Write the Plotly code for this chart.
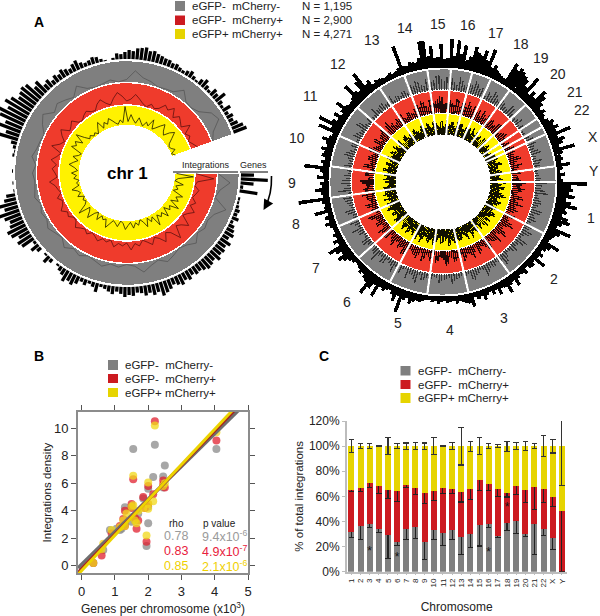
import numpy as np
import plotly.graph_objects as go

FONT = "Liberation Sans"
GREY, RED, YEL = "#7f7f7f", "#cc1a20", "#e6d400"
RING_GREY, RING_RED, RING_YEL = "#7f7f7f", "#ef3b2c", "#fff200"
NAMES = ["eGFP-  mCherry-", "eGFP-  mCherry+", "eGFP+ mCherry+"]
COUNTS = ["N = 1,195", "N = 2,900", "N = 4,271"]

# ---------- Panel A, chromosome 1 ----------
chr1_genes = [13,27,13,3,18,0,2,2,
 3,5,4,7,3,6,8,10,7,12,9,11,10,13,9,11,12,10,8,9,7,10,
 8,11,9,7,10,12,14,9,11,8,10,7,6,9,8,
 10,7,5,8,6,4,3,9,5,3,
 6,4,8,11,9,12,7,5,2,0,
 4,8,2,0,5,9,3,14,16,12,18,20,15,13,17,
 22,14,18,12,9,
 1,0,1,0,0,1,0,0,0,2,1,3,6,
 20,14,24,18,26,31,22,28,24,18,20,22,20,12,15,
 7,9,5,8,6,9,7,5,8,10,6,4,
 5,7,6,3,1,0,2,6,5,7,
 9,8,11,12,13,10,11,9,8,7,
 7,5,6,4,3,5,7,4,2,6,9,5,3,8,6,
 12,5,3,9,4,7,5,8,12,14]
chr1_grey = [1,13,4,1,15,6,3,5,2,8,3,1,4,7,2,5,10,3,1,4,2,6,3,1,5,2,7,1,3,6,2,4,1,5,3,2,4,1,6,3,
 2,1,7,12,4,8,5,2,10,3,1,2,4,1,3,12,6,4,1,2,3,10,2,1,4,13,16,5,1]
chr1_red = [1,19,3,1,6,4,2,7,3,10,5,2,13,7,4,16,6,3,11,5,2,8,4,1,6,3,9,2,5,3,7,1,4,2,6,3,1,5,2,4,
 7,2,1,5,3,8,4,2,6,1,3,5,10,2,4,7,3,9,4,1,12,5,2,7,11,3,5,8,2,1,4,6,3,2,7,10,5,2,8,13,
 9,4,6,11,7,3,1,5,2,4,10,7,12,4,9,6,3,11,2,5,1,4,7]
chr1_yel = [2,19,4,1,10,3,6,2,13,7,11,4,15,6,9,3,12,5,8,4,14,3,7,2,10,4,1,6,3,8,2,5,9,3,1,7,4,2,6,11,
 3,5,2,8,1,4,12,6,3,15,5,2,4,1,7,3,5,10,2,4,1,6,3,8,2,5,11,7,3,9,4,2,14,10,13,6,16,8,3,5,
 2,4,1,6,11,3,8,5,10,7,4,2,6,3,19,4,11,6,3,9,5,2,7,4,12,3,6,10,14,8,5,11,15,9,4,2,3,6,1,4]

# ---------- Panel A, whole genome ----------
chrom_labels = [str(i) for i in range(1, 23)] + ["X", "Y"]
chrom_span = [27,27,23,21,20,20,19,15,16,16,17,15,14,12,12,11,10,11,11,9,5,4,17,8]
genome_genes = [30,14,16,12,18,10,15,22,11,13,9,16,19,12,8,24,14,10,
 8,7,20,12,9,6,10,7,17,6,9,8,5,10,7,6,8,14,
 7,9,16,8,7,12,6,9,5,7,11,6,8,5,14,
 10,9,7,6,8,5,6,7,5,6,8,5,6,4,
 5,6,8,7,9,12,7,10,24,8,15,9,6,
 7,10,8,20,9,15,24,12,10,7,9,6,5,
 4,6,8,12,16,9,14,20,7,11,6,8,5,
 5,7,11,6,9,5,18,7,6,8,
 32,6,8,14,7,9,5,12,6,9,25,
 7,9,6,10,8,12,7,9,14,8,6,
 22,10,25,12,8,14,7,10,18,9,7,
 8,10,22,12,9,18,26,10,12,6,
 8,7,6,5,6,7,5,6,8,
 30,8,7,10,9,8,12,28,
 28,12,22,10,11,24,9,10,
 29,12,28,15,24,10,14,
 25,20,18,24,15,28,10,
 14,10,8,7,6,25,20,
 24,22,20,18,12,26,8,
 14,10,22,18,12,7,
 10,7,5,
 8,12,10,
 14,10,24,9,15,12,7,22,9,6,8,
 5,14,6,3,8,4,6]
genome_grey = [12,6,14,5,9,4,10,7,5,8,11,5,13,6,9,4,7,12,5,8,6,12,4,7,10,5,4,6,10,5,7,4,6,5,9,13,6,11,4,7,
 12,6,9,5,14,7,5,10,4,8,12,6,7,4,11,5,8,6,13,4,9,7,5,8,4,11,6,7,4,9,6,12,5,7,4,10,6,8,5,9,6,4,7,
 14,8,11,6,17,10,15,9,16,9,14,7,11,14,8,5,9,13,7,10,6,12,5,4,9,6,3,6,8,9,5,11,4,7,6,3,6]
genome_red = [14,8,11,6,13,9,7,12,5,10,7,15,6,12,8,14,9,6,13,7,10,5,14,8,11,6,9,12,6,15,7,10,5,11,6,13,8,10,7,12,
 15,9,6,13,8,11,7,13,5,10,8,14,9,6,12,7,10,6,11,8,14,5,9,5,12,7,10,6,13,7,11,5,9,12,6,14,9,7,8,11,5,9,6,
 16,10,13,7,18,12,17,9,17,11,15,8,13,16,9,7,12,14,8,6,11,8,13,5,9,7,4,7,10,9,6,13,5,8,7,5,7]
genome_yel = [16,11,14,9,15,12,10,13,8,13,9,15,11,14,8,12,10,7,14,10,16,9,12,8,13,11,15,11,17,12,14,9,13,16,12,14,10,17,11,13,
 14,10,16,11,13,9,12,15,9,13,10,14,11,8,14,10,12,9,13,7,11,10,12,8,14,9,13,10,14,9,12,8,11,10,14,7,12,9,11,8,13,9,10,
 13,9,12,8,14,10,13,9,15,11,13,8,12,14,9,10,13,15,9,8,12,9,13,7,11,9,6,9,11,12,8,14,9,11,7,9,13]
# the bins that fall between the ones above
genome_grey_b = [7,10,4,8,6,12,5,9,3,6,9,4,10,5,7,3,11,6,4,7,9,5,6,11,3,7,5,8,4,6,9,3,5,8,4,10,6,3,9,5,
 7,4,10,6,8,3,6,9,3,7,4,10,5,8,3,6,9,4,7,10,5,3,8,5,6,9,3,7,4,8,5,10,3,7,4,6,8,5,9,3,5,7,4,
 10,13,7,12,9,14,11,13,12,6,11,8,9,12,10,4,7,11,5,8,5,10,4,6,3,7,3,5,7,6,8,4,10,6,4,4,5]
genome_red_b = [10,13,7,12,6,15,9,8,11,6,12,9,7,14,5,10,8,13,9,6,12,8,10,7,13,5,11,7,13,9,6,12,8,7,10,5,12,9,6,14,
 8,11,7,10,5,12,10,6,11,7,12,5,8,11,6,9,13,10,7,12,6,9,7,12,6,10,8,11,9,5,12,8,10,6,11,8,5,10,12,6,9,7,10,
 12,15,9,14,11,14,16,10,13,9,14,12,10,12,14,9,6,10,13,10,7,12,9,7,11,6,8,6,9,7,11,8,12,6,9,6,9]
genome_yel_b = [12,15,10,13,17,9,14,11,13,10,14,12,8,11,15,9,13,11,11,13,9,15,10,12,14,9,12,16,10,13,15,11,14,11,15,10,13,12,16,9,
 12,14,9,15,10,13,14,10,13,9,15,11,13,10,9,14,11,12,8,11,13,9,10,14,9,12,7,13,10,13,9,14,8,12,9,11,13,7,9,12,10,7,13,
 10,14,9,13,12,8,14,11,9,13,10,15,13,9,12,12,8,11,14,10,7,13,9,9,7,12,8,11,8,9,13,10,7,12,10,11,8]

# ---------- Panel B ----------
b_grey_x = [4.05,2.2,1.55,2.5,2.15,2.45,2.0,2.0,1.95,1.3,1.3,1.2,1.5,1.7,1.6,0.65,0.35,0.85,1.15,1.5,1.85,2.0,2.45,1.05]
b_grey_y = [8.5,8.8,8.5,7.3,6.45,6.5,5.6,3.1,1.45,4.25,3.0,2.7,3.2,3.8,3.3,1.15,0.2,2.6,2.6,4.3,4.9,4.3,5.7,2.7]
b_red_x = [4.05,2.2,1.55,2.45,2.15,2.5,2.0,1.95,1.3,1.25,1.3,1.5,1.85,2.0,1.65,1.6,0.6,0.35,0.9,1.15,1.7,2.45,1.5,1.9]
b_red_y = [9.1,10.5,6.3,6.2,5.2,5.7,5.8,1.75,4.0,3.4,2.9,4.5,5.0,4.5,2.7,3.5,0.75,0.2,2.35,2.9,3.3,5.9,4.2,4.2]
b_yel_x = [4.05,2.2,1.55,2.5,2.0,2.15,2.0,1.95,1.35,1.3,1.55,1.65,1.6,0.6,0.35,0.9,1.15,1.5,1.7,1.85,2.45,1.25,0.65,2.0]
b_yel_y = [9.7,10.2,6.55,6.0,6.05,4.7,4.15,2.2,3.8,2.9,4.4,3.1,3.3,1.2,0.2,2.6,2.8,4.3,4.0,4.2,5.8,3.3,1.6,4.5]
fit_x = [-0.11, 5.0]
fit_grey = [-0.16, 11.98]
fit_red = [-0.48, 12.31]
fit_yel = [-0.63, 12.5]
rho_vals = ["0.78", "0.83", "0.85"]
p_vals = ["9.4x10<sup>-6</sup>", "4.9x10<sup>-7</sup>", "2.1x10<sup>-6</sup>"]

# ---------- Panel C ----------
c_grey = [32,36,38,34,29.5,24,34,35.5,24,33.5,31,33.5,27.5,30,37.5,38,28.5,39,40.5,30,38,34,27,0]
c_red = [33,31,33,34,35.5,40,35,31.5,39,30.5,36,32.5,36,36,35.5,32,37,23.5,28,35,29.5,32,32.5,48.5]
c_yel = [35,33,29,32,35,36,31,33,37,36,33,34,36.5,34,27,30,34.5,37.5,31.5,35,32.5,34,40.5,51.5]
c_grey_err = [5,10,3,3,19,3,8.5,9,14,8,10,8,14,11,17,3,1,6,10,2,24,5,9,0]
c_red_err = [1,3,4,6,7,8,2,5.5,9,7,4.5,3.5,8,8.5,8,5,5.5,3,7,10,18,11,7.5,20.5]
c_red_err_minus = [1,3,4,6,7,8,2,5.5,9,7,4.5,3.5,8,8.5,8,5,5.5,3,7,10,18,11,7.5,48.5]
c_yel_err = [5,2,2,0.5,7,2,2.5,3,2.5,7,0.5,3,15,4,7,2,1,4,3,3.5,2,8.5,5.5,30]
c_yel_err_minus = [5,2,2,0.5,7,2,2.5,3,2.5,7,0.5,3,15,4,7,2,1,4,3,3.5,2,8.5,5.5,31]
c_tick_vals = [0, 20, 40, 60, 80, 100, 120]
c_tick_text = ["0%", "20%", "40%", "60%", "80%", "100%", "120%"]
star_chrom = ["3", "6", "16", "18"]
star_level = [16, 11, 15, 51]


def fx(px):
    return px / 600


def fy(py):
    return 1 - py / 616


fig = go.Figure()

# ---- hidden page-sized axes for the chr 1 gene histogram, which overruns a polar box ----
CX, CY = 127, 173
bx, by = [], []
for i, h in enumerate(chr1_genes):
    if h <= 0:
        continue
    t = np.radians(i * 340 / len(chr1_genes) + 1)
    bx += [CX + 114 * np.cos(t), CX + (114 + h) * np.cos(t), None]
    by += [CY + 114 * np.sin(t), CY + (114 + h) * np.sin(t), None]
fig.add_trace(go.Scatter(x=bx, y=by, mode="lines", line=dict(color="black", width=3.3),
                         xaxis="x3", yaxis="y3", showlegend=False, hoverinfo="skip"))

# ---- left rings ----
for base, top, col in [(90.5, 22, RING_GREY), (68, 22.5, RING_RED), (47.5, 20.5, RING_YEL)]:
    fig.add_trace(go.Barpolar(theta=[170], width=[340], base=[base], r=[top], subplot="polar",
                              marker=dict(color=col, line=dict(color="white", width=1.5)),
                              showlegend=False, hoverinfo="skip"))
for vals, base, col, w in [(chr1_grey, 90.5, "#4a4a4a", 0.6), (chr1_red, 68, "#4a0c0c", 0.7), (chr1_yel, 47.5, "#1a1a00", 0.8)]:
    th = np.linspace(0.5, 339.5, len(vals))
    fig.add_trace(go.Scatterpolar(theta=th, r=np.array(vals) + base, mode="lines", subplot="polar",
                                  line=dict(color=col, width=w), showlegend=False, hoverinfo="skip"))

# ---- right rings ----
edges = np.cumsum([0] + chrom_span)
mids = (edges[:-1] + edges[1:]) / 2
for base, top, col in [(92, 21.5, RING_GREY), (69, 23, RING_RED), (47.5, 21.5, RING_YEL)]:
    fig.add_trace(go.Barpolar(theta=mids, width=chrom_span, base=[base] * 24, r=[top] * 24, subplot="polar2",
                              marker=dict(color=col, line=dict(color="white", width=1.8)),
                              showlegend=False, hoverinfo="skip"))
for vals, vals_b, base, wid, col in [(genome_grey, genome_grey_b, 92, 0.75, "#333333"),
                                     (genome_red, genome_red_b, 69, 1.0, "#220808"),
                                     (genome_yel, genome_yel_b, 47.5, 1.35, "#111100")]:
    n = len(vals)
    step = 360 / n
    th = np.concatenate([(np.arange(n) + 0.25) * step, (np.arange(len(vals_b)) + 0.75) * step])
    rr = list(vals) + list(vals_b)
    fig.add_trace(go.Barpolar(theta=th, width=[wid] * len(rr), base=[base] * len(rr), r=rr,
                              subplot="polar2", marker=dict(color=col, line=dict(width=0)),
                              showlegend=False, hoverinfo="skip"))
n = len(genome_genes)
fig.add_trace(go.Barpolar(theta=(np.arange(n) + 0.5) * 360 / n, width=[1.5] * n, base=[114.5] * n, r=genome_genes,
                          subplot="polar2", marker=dict(color="black", line=dict(width=0)),
                          showlegend=False, hoverinfo="skip"))
for e in edges[:-1]:
    fig.add_trace(go.Scatterpolar(theta=[e, e], r=[47, 114], mode="lines", subplot="polar2",
                                  line=dict(color="white", width=2), showlegend=False, hoverinfo="skip"))

# ---- Panel B ----
for xs, ys, col, nm in [(b_grey_x, b_grey_y, "#8a8a8a", NAMES[0]), (b_red_x, b_red_y, "#e0202f", NAMES[1]), (b_yel_x, b_yel_y, "#f0d818", NAMES[2])]:
    fig.add_trace(go.Scatter(x=xs, y=ys, mode="markers", name=nm, xaxis="x", yaxis="y",
                             marker=dict(color=col, size=8, opacity=0.75, line=dict(width=0)), showlegend=False))
for ys, col, wid in [(fit_grey, "#6f6f6f", 3.5), (fit_red, "#a82020", 3), (fit_yel, "#ecd400", 3)]:
    fig.add_trace(go.Scatter(x=fit_x, y=ys, mode="lines", xaxis="x", yaxis="y",
                             line=dict(color=col, width=wid), showlegend=False, hoverinfo="skip"))

# ---- Panel C ----
ebar = lambda plus, minus, col: dict(type="data", symmetric=False, array=plus, arrayminus=minus,
                                     color=col, thickness=1.1, width=2.8)
fig.add_trace(go.Bar(x=chrom_labels, y=c_grey, name=NAMES[0], marker=dict(color=GREY, line=dict(width=0)), xaxis="x2", yaxis="y2",
                     error_y=ebar(c_grey_err, c_grey_err, "#222222"), showlegend=False))
fig.add_trace(go.Bar(x=chrom_labels, y=c_red, name=NAMES[1], marker=dict(color=RED, line=dict(width=0)), xaxis="x2", yaxis="y2",
                     error_y=ebar(c_red_err, c_red_err_minus, "#222222"), showlegend=False))
fig.add_trace(go.Bar(x=chrom_labels, y=c_yel, name=NAMES[2], marker=dict(color=YEL, line=dict(width=0)), xaxis="x2", yaxis="y2",
                     error_y=ebar(c_yel_err, c_yel_err_minus, "#333333"), showlegend=False))
fig.add_trace(go.Scatter(x=star_chrom, y=star_level, mode="text", text=["*"] * 4, xaxis="x2", yaxis="y2",
                         textfont=dict(family=FONT, size=12, color="#111111"), showlegend=False, hoverinfo="skip"))

# ---- text and shapes ----
ann, shp = [], []


def text(px, py, s, size=12, color="#222222", anchor="left", bold=False, angle=0):
    ann.append(dict(x=fx(px), y=fy(py), xref="paper", yref="paper", text=f"<b>{s}</b>" if bold else s,
                    showarrow=False, xanchor=anchor, yanchor="middle", textangle=angle,
                    font=dict(family=FONT, size=size, color=color)))


def legend(sx, tx, rows, size=11.5):
    for (top, bot), nm, col in zip(rows, NAMES, [GREY, RED, YEL]):
        shp.append(dict(type="rect", xref="paper", yref="paper", x0=fx(sx), x1=fx(sx + 10), y0=fy(bot), y1=fy(top),
                        fillcolor=col, line=dict(width=0)))
        text(tx, (top + bot) / 2, nm, size)


legend(175, 190, [(1, 11), (15.5, 25), (29, 39)])
for py, c in zip([6, 20, 34], COUNTS):
    text(300, py, c, 11.5)
legend(108, 123, [(360, 370), (374, 383), (388, 397)])
legend(400.5, 416, [(366, 375.5), (380, 389), (393, 403)])

text(39, 22, "A", 14, "black", "center", True)
text(39, 356, "B", 14, "black", "center", True)
text(324, 356, "C", 14, "black", "center", True)
text(127, 173, "chr 1", 17, "black", "center", True)
text(206, 165, "Integrations", 9, "#222222", "center")
text(253, 165, "Genes", 9, "#222222", "center")
for a, b in [(173, 238), (240, 268)]:
    shp.append(dict(type="line", xref="paper", yref="paper", x0=fx(a), x1=fx(b), y0=fy(172), y1=fy(172),
                    line=dict(color="black", width=1)))
# curved arrow beside the chr 1 wheel
shp.append(dict(type="path", xref="paper", yref="paper",
                path=f"M {fx(271.5)} {fy(176)} Q {fx(272)} {fy(195)} {fx(265)} {fy(207)}",
                line=dict(color="black", width=1.6)))
ann.append(dict(x=fx(263.5), y=fy(210), ax=4, ay=-7, xref="paper", yref="paper", axref="pixel", ayref="pixel",
                text="", showarrow=True, arrowhead=2, arrowsize=1.3, arrowwidth=1.6, arrowcolor="black"))

chrom_xy = [(591,218),(554,279),(504,318),(450,330),(398,323),(347,302),(316,268),(296,224),(292,183),(297,138),(310,96),
            (338,64),(372,40),(405,28),(438,24),(468,25),(496,33),(521,44),(541,58),(558,74),(575,92),(582,110),(593,137),(594,171)]
for (px, py), lab in zip(chrom_xy, chrom_labels):
    text(px, py, lab, 14, "#222222", "center")

for (py, r, p, c) in [(536, rho_vals[0], p_vals[0], "#9a9a9a"), (551, rho_vals[1], p_vals[1], "#e8213c"), (566, rho_vals[2], p_vals[2], "#f0d000")]:
    text(176, py, r, 12.5, c, "center")
    text(224, py, p, 12.5, c, "center")
text(176, 523, "rho", 10, "#222222", "center")
text(220, 523, "p value", 10, "#222222", "center")

fig.update_layout(
    template="none",
    width=600, height=616, margin=dict(l=0, r=0, t=0, b=0, pad=0), autosize=False,
    paper_bgcolor="white", plot_bgcolor="rgba(0,0,0,0)", barmode="stack", bargap=0.35,
    font=dict(family=FONT, color="#222222"), showlegend=False, annotations=ann, shapes=shp,
    polar=dict(domain=dict(x=[fx(13), fx(241)], y=[fy(287), fy(59)]), bgcolor="rgba(0,0,0,0)", barmode="overlay",
               radialaxis=dict(visible=False, range=[0, 114]),
               angularaxis=dict(visible=False, rotation=0, direction="clockwise")),
    polar2=dict(domain=dict(x=[fx(297), fx(589)], y=[fy(328), fy(36)]), bgcolor="rgba(0,0,0,0)", barmode="overlay",
                radialaxis=dict(visible=False, range=[0, 146]),
                angularaxis=dict(visible=False, rotation=0, direction="clockwise")),
    xaxis=dict(domain=[fx(78), fx(248)], range=[-0.11, 5.0], tickvals=[0, 1, 2, 3, 4, 5], showgrid=False, zeroline=False, automargin=False,
               showline=True, linecolor="#8c8c8c", linewidth=2, mirror="ticks", ticks="outside", ticklen=5, tickcolor="#555555",
               tickfont=dict(size=13), title=dict(text="Genes per chromosome (x10<sup>3</sup>)", font=dict(size=12), standoff=8)),
    yaxis=dict(domain=[fy(573), fy(412)], range=[-0.52, 11.18], tickvals=[0, 2, 4, 6, 8, 10], showgrid=False, zeroline=False, automargin=False,
               showline=True, linecolor="#8c8c8c", linewidth=2, mirror="ticks", ticks="outside", ticklen=5, tickcolor="#555555",
               tickfont=dict(size=13), title=dict(text="Integrations density", font=dict(size=11.5), standoff=0)),
    xaxis2=dict(domain=[fx(346.8), fx(566.5)], type="category", range=[-0.5, 23.5], categoryorder="array", categoryarray=chrom_labels,
                anchor="y2", tickangle=-90, tickfont=dict(size=8), showgrid=False, showline=True, linecolor="#bdbdbd", linewidth=1.5, automargin=False,
                ticks="outside", ticklen=2, tickcolor="#bdbdbd", tickmode="array", tickvals=chrom_labels,
                title=dict(text="Chromosome", font=dict(size=12), standoff=16)),
    yaxis2=dict(domain=[fy(571.7), fy(421)], range=[0, 120], anchor="x2", tickvals=c_tick_vals, ticktext=c_tick_text, automargin=False,
                showgrid=False, zeroline=False, showline=True, linecolor="#bdbdbd", linewidth=1.5, ticks="outside", ticklen=3,
                tickcolor="#bdbdbd", tickfont=dict(size=12), title=dict(text="% of total integrations", font=dict(size=11.5), standoff=3)),
    xaxis3=dict(domain=[0, 1], range=[0, 600], visible=False, anchor="y3", fixedrange=True, automargin=False),
    yaxis3=dict(domain=[0, 1], range=[616, 0], visible=False, anchor="x3", fixedrange=True, automargin=False),
)
fig.write_html("out.html", config={"displayModeBar": False},
               post_script="document.body.style.margin='0';")
